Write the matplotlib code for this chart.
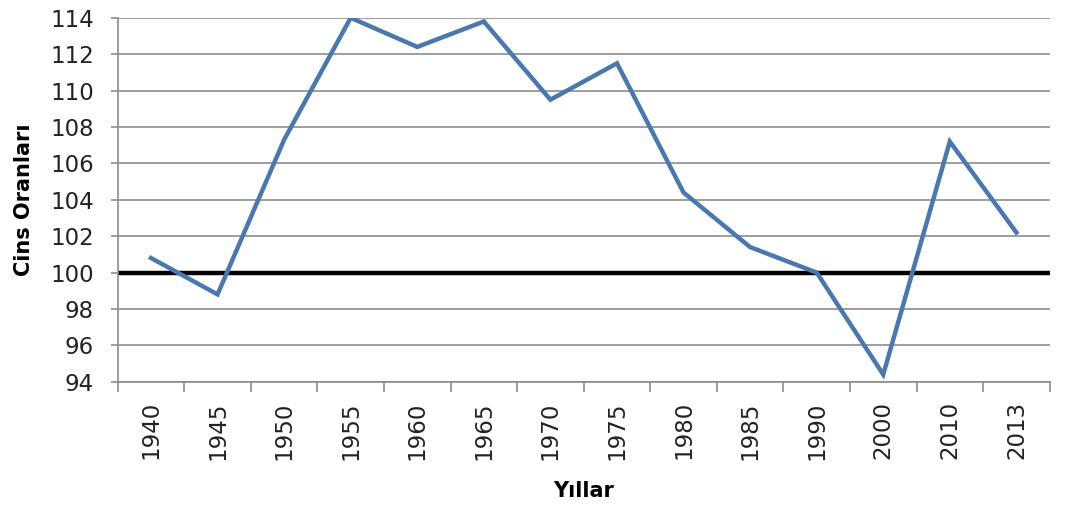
import matplotlib
matplotlib.use("Agg")
import matplotlib.pyplot as plt
from matplotlib.ticker import FixedLocator, MultipleLocator
import numpy as np

years = ["1940", "1945", "1950", "1955", "1960", "1965", "1970", "1975",
         "1980", "1985", "1990", "2000", "2010", "2013"]
sex_ratio = [100.8, 98.8, 107.3, 114.0, 112.4, 113.8, 109.5, 111.5,
             104.4, 101.4, 100.0, 94.4, 107.2, 102.2]
reference_level = 100

fig = plt.figure(figsize=(10.70, 5.09), dpi=100)
ax = fig.add_axes([0.110, 0.250, 0.871, 0.715])

x = np.arange(len(years))
ax.set_xlim(-0.5, len(years) - 0.5)
ax.set_ylim(94, 114)
ax.yaxis.set_major_locator(MultipleLocator(2))
ax.grid(axis="y", color="#8c8c8c", linewidth=1.2, zorder=0)

ax.axhline(reference_level, color="black", linewidth=3.2, zorder=2)
ax.plot(x, sex_ratio, color="#4a78ad", linewidth=3.2, zorder=3,
        solid_joinstyle="miter")

ax.set_xticks(x)
ax.set_xticklabels(years, rotation=90, fontsize=16.5, color="#222222")
ax.tick_params(axis="x", which="major", length=0, pad=14)
ax.xaxis.set_minor_locator(FixedLocator(np.arange(-0.5, len(years), 1.0)))
ax.tick_params(axis="x", which="minor", length=7, color="#8c8c8c", width=1.2)
ax.tick_params(axis="y", length=5, color="#8c8c8c", width=1.2, labelsize=16.5,
               labelcolor="#222222", pad=12)

for s in ["top", "right"]:
    ax.spines[s].set_visible(False)
for s in ["left", "bottom"]:
    ax.spines[s].set_color("#8c8c8c")
    ax.spines[s].set_linewidth(1.2)

ax.set_ylabel("Cins Oranları", fontsize=15, fontweight="bold")
ax.yaxis.set_label_coords(-0.090, 0.5)
ax.set_xlabel("Yıllar", fontsize=15, fontweight="bold")
ax.xaxis.set_label_coords(0.5, -0.272)

fig.savefig("out.png", dpi=100, facecolor="white")
